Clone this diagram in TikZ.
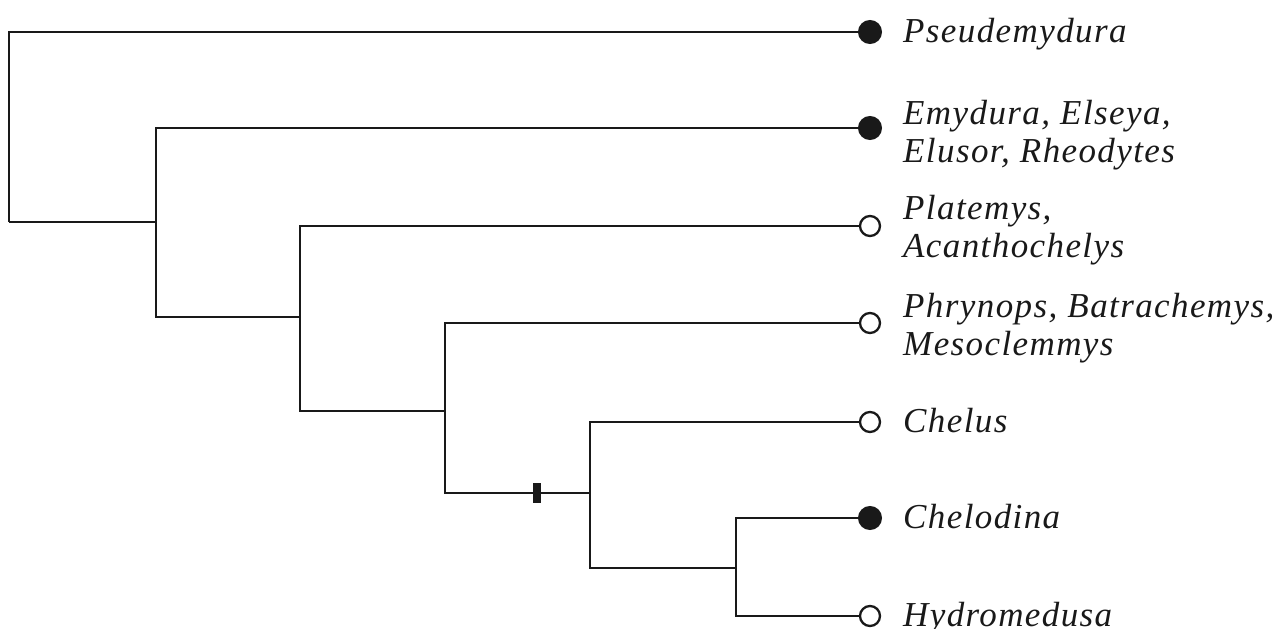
\documentclass[tikz,border=0pt]{standalone}
\usepackage{fontspec}
\setmainfont{Liberation Serif}
\begin{document}
\begin{tikzpicture}[x=1pt,y=-1pt,
  branch/.style={line width=2.3pt, line join=miter, black!90},
  filledleaf/.style={circle, draw=black!90, fill=black!90, line width=2pt, minimum size=22pt, inner sep=0pt},
  openleaf/.style={circle, draw=black!90, fill=white, line width=2.3pt, minimum size=20pt, inner sep=0pt},
  taxon/.style={anchor=base west, inner sep=0pt, text=black!90, font=\fontsize{35}{38}\selectfont\itshape\addfontfeature{LetterSpace=4}},
  tickmark/.style={fill=black!90, draw=none}]
\useasboundingbox (0,0) rectangle (1285,629);
% internal nodes
\coordinate (root) at (9,222);
\coordinate (n2) at (156,222);
\coordinate (n3) at (300,317);
\coordinate (n4) at (445,411);
\coordinate (n5) at (590,493);
\coordinate (n6) at (736,568);
% leaves
\node[filledleaf] (pse) at (870,32) {};
\node[filledleaf] (emy) at (870,128) {};
\node[openleaf] (pla) at (870,226) {};
\node[openleaf] (phr) at (870,323) {};
\node[openleaf] (che) at (870,422) {};
\node[filledleaf] (chd) at (870,518) {};
\node[openleaf] (hyd) at (870,616) {};
% labels
\node[taxon] (lpse) at (903,42) {Pseudemydura};
\node[taxon] (lemy) at (903,124) {\begin{tabular}[t]{@{}l@{}}Emydura, Elseya,\\Elusor, Rheodytes\end{tabular}};
\node[taxon] (lpla) at (903,219) {\begin{tabular}[t]{@{}l@{}}Platemys,\\Acanthochelys\end{tabular}};
\node[taxon] (lphr) at (903,317) {\begin{tabular}[t]{@{}l@{}}Phrynops, Batrachemys,\\Mesoclemmys\end{tabular}};
\node[taxon] (lche) at (903,432) {Chelus};
\node[taxon] (lchd) at (903,528) {Chelodina};
\node[taxon] (lhyd) at (903,626) {Hydromedusa};
% branches
\draw[branch] (root) |- (pse);
\draw[branch] (root) |- (n2);
\draw[branch] (n2) |- (emy);
\draw[branch] (n2) |- (n3);
\draw[branch] (n3) |- (pla);
\draw[branch] (n3) |- (n4);
\draw[branch] (n4) |- (phr);
\draw[branch] (n4) |- (n5);
\draw[branch] (n5) |- (che);
\draw[branch] (n5) |- (n6);
\draw[branch] (n6) |- (chd);
\draw[branch] (n6) |- (hyd);
% synapomorphy tick
\node[tickmark, minimum width=8pt, minimum height=20pt, inner sep=0pt] (tick) at (537,493) {};
\end{tikzpicture}
\end{document}
